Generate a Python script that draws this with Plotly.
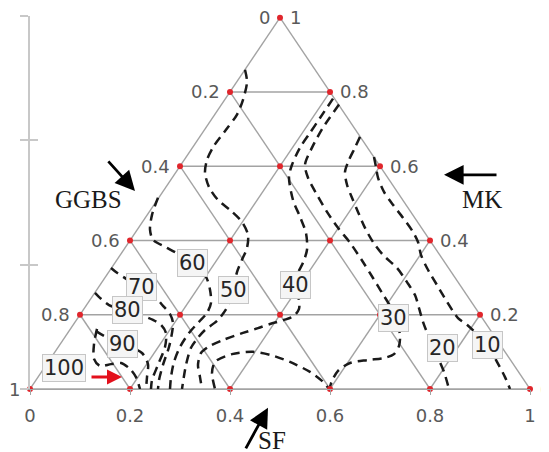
import math
import plotly.graph_objects as go

H = math.sqrt(3) / 2  # height of the ternary triangle in data units

# ---- axis / edge tick labels ----
bottom_ticks = [0, 0.2, 0.4, 0.6, 0.8, 1]
bottom_text = ["0", "0.2", "0.4", "0.6", "0.8", "1"]
left_text = ["0", "0.2", "0.4", "0.6", "0.8", "1"]    # apex -> bottom-left (GGBS)
right_text = ["1", "0.8", "0.6", "0.4", "0.2", "0"]   # apex -> bottom-right (MK)
grid_levels = [0.2, 0.4, 0.6, 0.8]
y_ticks = [0, 0.29, 0.58, 0.87]
Y_TOP = 0.87

# ---- contour lines: x (0-1) and h (fraction of triangle height) ----
c10_x = [0.688, 0.692, 0.696, 0.708, 0.726, 0.746, 0.766, 0.776, 0.782, 0.794, 0.814, 0.834, 0.856, 0.874, 0.914, 0.934, 0.950, 0.960]
c10_h = [0.625, 0.598, 0.569, 0.531, 0.496, 0.461, 0.423, 0.396, 0.361, 0.326, 0.280, 0.235, 0.191, 0.173, 0.119, 0.073, 0.032, 0.0]

c20_x = [0.660, 0.650, 0.638, 0.630, 0.634, 0.644, 0.656, 0.670, 0.686, 0.706, 0.734, 0.754, 0.770, 0.778, 0.786, 0.800, 0.816, 0.828, 0.838]
c20_h = [0.679, 0.650, 0.617, 0.585, 0.550, 0.515, 0.477, 0.434, 0.396, 0.361, 0.326, 0.288, 0.253, 0.218, 0.181, 0.132, 0.084, 0.046, 0.0]

c30_x = [0.618, 0.586, 0.564, 0.550, 0.556, 0.574, 0.594, 0.616, 0.640, 0.666, 0.686, 0.704, 0.720, 0.732, 0.740, 0.738, 0.728, 0.710, 0.676, 0.640, 0.616, 0.604, 0.598, 0.584, 0.560, 0.520, 0.480, 0.446, 0.404, 0.370, 0.364, 0.370]
c30_h = [0.766, 0.704, 0.650, 0.604, 0.569, 0.523, 0.477, 0.434, 0.394, 0.342, 0.299, 0.259, 0.224, 0.186, 0.146, 0.116, 0.094, 0.084, 0.078, 0.070, 0.049, 0.022, 0.003, 0.022, 0.046, 0.073, 0.092, 0.100, 0.094, 0.073, 0.043, 0.0]

c40_x = [0.606, 0.580, 0.560, 0.540, 0.524, 0.518, 0.526, 0.540, 0.552, 0.554, 0.546, 0.534, 0.530, 0.538, 0.538, 0.528, 0.508, 0.480, 0.456, 0.426, 0.386, 0.360, 0.342, 0.336, 0.340, 0.344]
c40_h = [0.782, 0.730, 0.690, 0.650, 0.604, 0.571, 0.509, 0.464, 0.420, 0.375, 0.340, 0.307, 0.278, 0.240, 0.216, 0.197, 0.186, 0.175, 0.164, 0.151, 0.132, 0.116, 0.097, 0.065, 0.032, 0.0]

c50_x = [0.430, 0.434, 0.426, 0.414, 0.392, 0.368, 0.354, 0.350, 0.358, 0.376, 0.402, 0.424, 0.436, 0.434, 0.424, 0.414, 0.406, 0.396, 0.376, 0.350, 0.334, 0.322, 0.312, 0.304]
c50_h = [0.860, 0.827, 0.779, 0.739, 0.698, 0.655, 0.617, 0.582, 0.544, 0.509, 0.480, 0.450, 0.415, 0.380, 0.348, 0.315, 0.267, 0.224, 0.186, 0.159, 0.135, 0.111, 0.065, 0.0]

c60_x = [0.256, 0.244, 0.240, 0.246, 0.270, 0.292, 0.324, 0.352, 0.360, 0.362, 0.354, 0.338, 0.318, 0.300, 0.288, 0.282, 0.280]
c60_h = [0.515, 0.469, 0.429, 0.402, 0.383, 0.367, 0.340, 0.302, 0.267, 0.232, 0.205, 0.181, 0.151, 0.113, 0.073, 0.032, 0.0]

c70_x = [0.162, 0.174, 0.196, 0.222, 0.250, 0.266, 0.280, 0.286, 0.284, 0.278, 0.266, 0.258, 0.256]
c70_h = [0.326, 0.313, 0.294, 0.275, 0.248, 0.224, 0.202, 0.178, 0.151, 0.113, 0.065, 0.024, 0.0]

c80_x = [0.130, 0.142, 0.158, 0.194, 0.226, 0.246, 0.262, 0.272, 0.270, 0.256, 0.244, 0.242]
c80_h = [0.259, 0.243, 0.226, 0.210, 0.197, 0.186, 0.173, 0.151, 0.113, 0.065, 0.024, 0.0]

c90_x = [0.132, 0.152, 0.184, 0.224, 0.236, 0.234, 0.232]
c90_h = [0.156, 0.140, 0.121, 0.097, 0.067, 0.032, 0.0]

c100_x = [0.134, 0.128, 0.128, 0.140, 0.162, 0.182, 0.200, 0.212, 0.220]
c100_h = [0.162, 0.121, 0.081, 0.062, 0.067, 0.070, 0.054, 0.032, 0.0]

contour_values = ["10", "20", "30", "40", "50", "60", "70", "80", "90", "100"]
contours_x = [c10_x, c20_x, c30_x, c40_x, c50_x, c60_x, c70_x, c80_x, c90_x, c100_x]
contours_h = [c10_h, c20_h, c30_h, c40_h, c50_h, c60_h, c70_h, c80_h, c90_h, c100_h]

# label positions for each contour value
label_x = [0.914, 0.824, 0.726, 0.530, 0.406, 0.324, 0.222, 0.194, 0.184, 0.068]
label_h = [0.119, 0.111, 0.191, 0.280, 0.267, 0.340, 0.275, 0.213, 0.121, 0.057]

GRID = "#a3a3a3"
RED = "#e0262c"
NUMFONT = "DejaVu Sans"

fig = go.Figure()

# ---- triangle outline and grid ----
def add_seg(x0, y0, x1, y1):
    fig.add_trace(go.Scatter(x=[x0, x1], y=[y0, y1], mode="lines",
                             line=dict(color=GRID, width=1.4),
                             hoverinfo="skip", cliponaxis=False))

add_seg(0, 0, 1, 0)
add_seg(0, 0, 0.5, H)
add_seg(1, 0, 0.5, H)
for g in grid_levels:
    add_seg(g / 2, g * H, 1 - g / 2, g * H)          # horizontal
    add_seg(g, 0, g + (1 - g) / 2, (1 - g) * H)      # parallel to left edge
    add_seg(g, 0, g / 2, g * H)                       # parallel to right edge

# ---- contour lines ----
for cx, ch in zip(contours_x, contours_h):
    fig.add_trace(go.Scatter(x=cx, y=[v * H for v in ch], mode="lines",
                             line=dict(color="#1a1a1a", width=2.5, dash="9px,6px",
                                       shape="spline", smoothing=0.8),
                             hoverinfo="skip", cliponaxis=False))

# ---- red nodes ----
nx, ny = [], []
for j in range(6):
    for i in range(6 - j):
        nx.append(i / 5 + j / 10)
        ny.append(j / 5 * H)
fig.add_trace(go.Scatter(x=nx, y=ny, mode="markers",
                         marker=dict(color=RED, size=6),
                         hoverinfo="skip", cliponaxis=False))

# dummy trace for second (overlaying) y axis to get crossing ticks
fig.add_trace(go.Scatter(x=[None], y=[None], yaxis="y2", mode="markers",
                         hoverinfo="skip", showlegend=False))

ann = []
# contour labels
for t, lx, lh in zip(contour_values, label_x, label_h):
    ann.append(dict(x=lx, y=lh * H, text=t, showarrow=False,
                    font=dict(family=NUMFONT, size=21, color="#262626"),
                    bgcolor="#f5f5f5", bordercolor="#c6c6c6", borderwidth=1,
                    borderpad=1, xanchor="center", yanchor="middle"))

# edge labels
for k in range(6):
    h = 1 - k / 5
    ann.append(dict(x=h / 2, y=h * H, text=left_text[k], showarrow=False,
                    font=dict(family=NUMFONT, size=18, color="#595959"),
                    xanchor="right", yanchor="middle", xshift=-8))
    ann.append(dict(x=1 - h / 2, y=h * H, text=right_text[k], showarrow=False,
                    font=dict(family=NUMFONT, size=18, color="#595959"),
                    xanchor="left", yanchor="middle", xshift=8))

# component names (paper coordinates so that labels below the axis stay visible)
SERIF = dict(family="Liberation Serif", size=25, color="#1a1a1a")
def name(x, y, t):
    ann.append(dict(x=x, y=y / Y_TOP, xref="paper", yref="paper", text=t,
                    showarrow=False, font=SERIF,
                    xanchor="center", yanchor="middle"))

name(0.116, 0.441, "GGBS")
name(0.904, 0.441, "MK")
name(0.484, -0.120, "SF")

# arrows: head in paper coords, tail given as pixel offset from the head
def arrow(x, y, dx, dy, color="black", w=2.8, size=1.4):
    ann.append(dict(x=x, y=y / Y_TOP, xref="paper", yref="paper",
                    ax=dx, ay=dy, axref="pixel", ayref="pixel",
                    text="", showarrow=True, arrowhead=2, arrowsize=size,
                    arrowwidth=w, arrowcolor=color, standoff=0, startstandoff=0))

arrow(0.210, 0.462, -28, -31)
arrow(0.828, 0.4995, 54, 0)
arrow(0.476, -0.044, -23, 42)
arrow(0.184, 0.028, -32, 0, color="#e3101c", w=3, size=1.0)

# The page body has an 8px margin, so the figure is made 8px smaller
# and its left/top margins are reduced by 8px.
fig.update_layout(
    width=541, height=444,
    margin=dict(l=22, r=19, t=8, b=63, autoexpand=False),
    plot_bgcolor="white", paper_bgcolor="white",
    showlegend=False,
    annotations=ann,
    xaxis=dict(range=[0, 1], showgrid=False, zeroline=False, automargin=False,
               showline=True, linecolor=GRID, linewidth=1.4,
               ticks="outside", ticklen=5, tickcolor=GRID, tickwidth=1.4,
               tickvals=bottom_ticks, ticktext=bottom_text,
               tickfont=dict(family=NUMFONT, size=18, color="#595959"),
               ticklabelstandoff=5),
    yaxis=dict(range=[0, Y_TOP], showgrid=False, zeroline=False, automargin=False,
               showline=True, linecolor="#c8c8c8", linewidth=2,
               ticks="outside", ticklen=8, tickcolor="#c8c8c8", tickwidth=2,
               tickvals=y_ticks, showticklabels=False),
    yaxis2=dict(range=[0, Y_TOP], overlaying="y", side="left", showgrid=False,
                zeroline=False, showline=False, automargin=False,
                ticks="inside", ticklen=8, tickcolor="#c8c8c8", tickwidth=2,
                tickvals=y_ticks, showticklabels=False),
)

fig.write_html("out.html")
